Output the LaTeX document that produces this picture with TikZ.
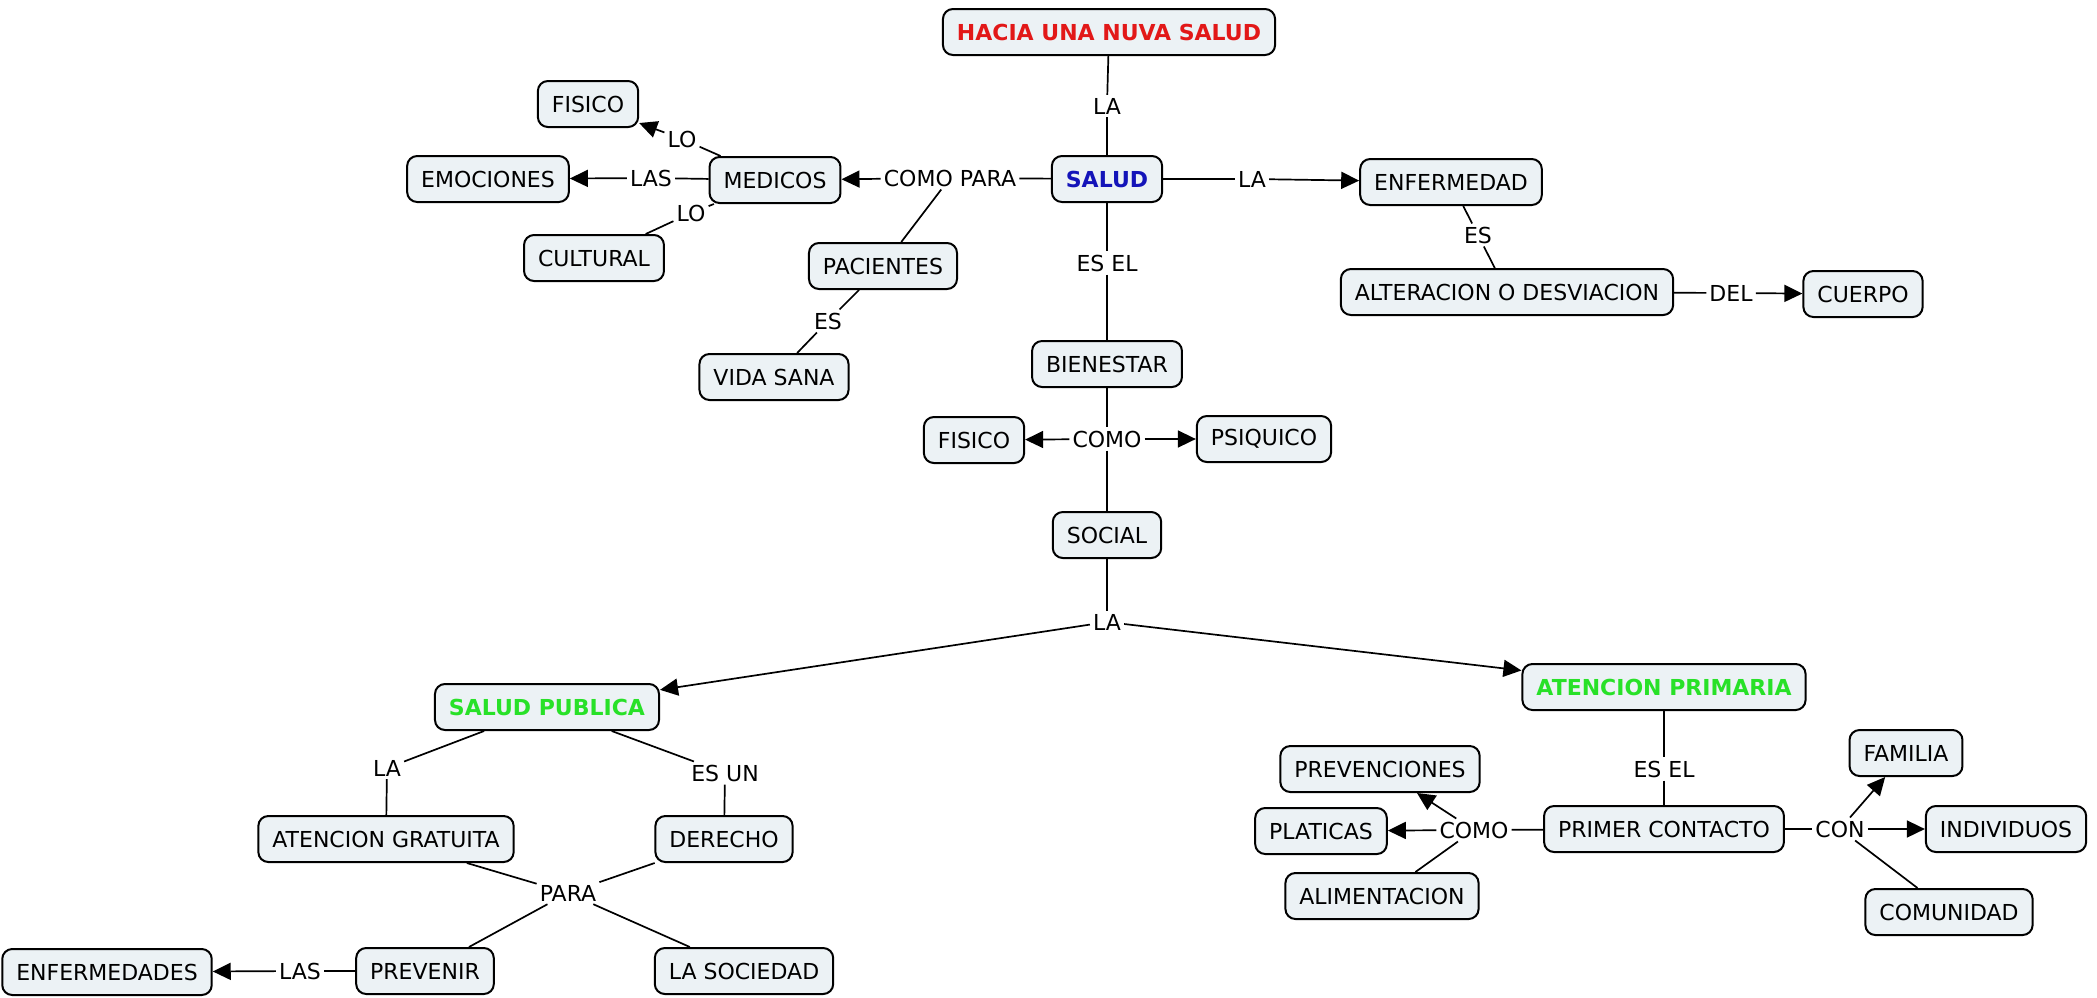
\documentclass[tikz,border=0pt]{standalone}
\usepackage{fontspec}
\setmainfont{DejaVu Sans}
\usepackage{tikz}
\usetikzlibrary{arrows.meta}
\definecolor{boxfill}{RGB}{236,242,245}
\definecolor{titlered}{RGB}{226,24,24}
\definecolor{saludblue}{RGB}{20,20,185}
\definecolor{publicgreen}{RGB}{40,225,40}
\tikzset{
    concept-box/.style = {draw=black, fill=boxfill, line width=2pt, rectangle, rounded corners=10pt, inner xsep=14pt, minimum height=46pt, font=\fontsize{22}{26}\selectfont},
    concept-title/.style = {concept-box, font=\fontsize{22}{26}\selectfont\bfseries},
    link-text/.style = {inner sep=3pt, font=\fontsize{22}{26}\selectfont},
    link-line/.style = {line width=1.7pt},
    link-arrow/.style = {link-line, -{Triangle[length=18pt,width=17pt]}},
}

\begin{document}
\begin{tikzpicture}[x=1pt, y=-1pt]
\useasboundingbox (0,0) rectangle (2097,997);
% concepts
\node[concept-title, text=titlered] (title) at (1109,32) {HACIA UNA NUVA SALUD};
\node[concept-title, text=saludblue] (salud) at (1107,179) {SALUD};
\node[concept-box] (enfermedad) at (1451,182) {ENFERMEDAD};
\node[concept-box] (alteracion) at (1507,292) {ALTERACION O DESVIACION};
\node[concept-box] (cuerpo) at (1863,294) {CUERPO};
\node[concept-box] (bienestar) at (1107,364) {BIENESTAR};
\node[concept-box] (fisico-a) at (974,440) {FISICO};
\node[concept-box] (psiquico) at (1264,439) {PSIQUICO};
\node[concept-box] (social) at (1107,535) {SOCIAL};
\node[concept-title, text=publicgreen] (salud-publica) at (547,707) {SALUD PUBLICA};
\node[concept-title, text=publicgreen] (atencion-primaria) at (1664,687) {ATENCION PRIMARIA};
\node[concept-box] (medicos) at (775,180) {MEDICOS};
\node[concept-box] (pacientes) at (883,266) {PACIENTES};
\node[concept-box] (vida-sana) at (774,377) {VIDA SANA};
\node[concept-box] (emociones) at (488,179) {EMOCIONES};
\node[concept-box] (fisico-b) at (588,104) {FISICO};
\node[concept-box] (cultural) at (594,258) {CULTURAL};
\node[concept-box] (gratuita) at (386,839) {ATENCION GRATUITA};
\node[concept-box] (derecho) at (724,839) {DERECHO};
\node[concept-box] (prevenir) at (425,971) {PREVENIR};
\node[concept-box] (sociedad) at (744,971) {LA SOCIEDAD};
\node[concept-box] (enfermedades) at (107,972) {ENFERMEDADES};
\node[concept-box] (contacto) at (1664,829) {PRIMER CONTACTO};
\node[concept-box] (prevenciones) at (1380,769) {PREVENCIONES};
\node[concept-box] (platicas) at (1321,831) {PLATICAS};
\node[concept-box] (alimentacion) at (1382,896) {ALIMENTACION};
\node[concept-box] (familia) at (1906,753) {FAMILIA};
\node[concept-box] (individuos) at (2006,829) {INDIVIDUOS};
\node[concept-box] (comunidad) at (1949,912) {COMUNIDAD};
% linking phrases
\node[link-text] (la-a) at (1107,106) {LA};
\node[link-text] (la-b) at (1252,179) {LA};
\node[link-text] (es-a) at (1478,235) {ES};
\node[link-text] (del) at (1731,293) {DEL};
\node[link-text] (esel-a) at (1107,263) {ES EL};
\node[link-text] (como-a) at (1107,439) {COMO};
\node[link-text] (la-c) at (1107,622) {LA};
\node[link-text] (como-para) at (950,178) {COMO PARA};
\node[link-text] (es-b) at (828,321) {ES};
\node[link-text] (las-a) at (651,178) {LAS};
\node[link-text] (lo-a) at (682,139) {LO};
\node[link-text] (lo-b) at (691,213) {LO};
\node[link-text] (la-d) at (387,768) {LA};
\node[link-text] (esun) at (725,773) {ES UN};
\node[link-text] (para) at (568,893) {PARA};
\node[link-text] (las-b) at (300,971) {LAS};
\node[link-text] (esel-b) at (1664,769) {ES EL};
\node[link-text] (como-b) at (1474,830) {COMO};
\node[link-text] (con) at (1840,829) {CON};
% connectors
\draw[link-line] (title) -- (la-a);
\draw[link-line] (la-a) -- (salud);
\draw[link-line] (salud) -- (la-b);
\draw[link-arrow] (la-b) -- (enfermedad);
\draw[link-line] (enfermedad) -- (es-a);
\draw[link-line] (es-a) -- (alteracion);
\draw[link-line] (alteracion) -- (del);
\draw[link-arrow] (del) -- (cuerpo);
\draw[link-line] (salud) -- (esel-a);
\draw[link-line] (esel-a) -- (bienestar);
\draw[link-line] (bienestar) -- (como-a);
\draw[link-arrow] (como-a) -- (fisico-a);
\draw[link-arrow] (como-a) -- (psiquico);
\draw[link-line] (como-a) -- (social);
\draw[link-line] (social) -- (la-c);
\draw[link-arrow] (la-c) -- (salud-publica);
\draw[link-arrow] (la-c) -- (atencion-primaria);
\draw[link-line] (salud) -- (como-para);
\draw[link-arrow] (como-para) -- (medicos);
\draw[link-line] (como-para) -- (pacientes);
\draw[link-line] (pacientes) -- (es-b);
\draw[link-line] (es-b) -- (vida-sana);
\draw[link-line] (medicos) -- (las-a);
\draw[link-arrow] (las-a) -- (emociones);
\draw[link-line] (medicos) -- (lo-a);
\draw[link-arrow] (lo-a) -- (fisico-b);
\draw[link-line] (medicos) -- (lo-b);
\draw[link-line] (lo-b) -- (cultural);
\draw[link-line] (salud-publica) -- (la-d);
\draw[link-line] (la-d) -- (gratuita);
\draw[link-line] (salud-publica) -- (esun);
\draw[link-line] (esun) -- (derecho);
\draw[link-line] (gratuita) -- (para);
\draw[link-line] (derecho) -- (para);
\draw[link-line] (para) -- (prevenir);
\draw[link-line] (para) -- (sociedad);
\draw[link-line] (prevenir) -- (las-b);
\draw[link-arrow] (las-b) -- (enfermedades);
\draw[link-line] (atencion-primaria) -- (esel-b);
\draw[link-line] (esel-b) -- (contacto);
\draw[link-line] (contacto) -- (como-b);
\draw[link-arrow] (como-b) -- (prevenciones);
\draw[link-arrow] (como-b) -- (platicas);
\draw[link-line] (como-b) -- (alimentacion);
\draw[link-line] (contacto) -- (con);
\draw[link-arrow] (con) -- (familia);
\draw[link-arrow] (con) -- (individuos);
\draw[link-line] (con) -- (comunidad);
\end{tikzpicture}
\end{document}
